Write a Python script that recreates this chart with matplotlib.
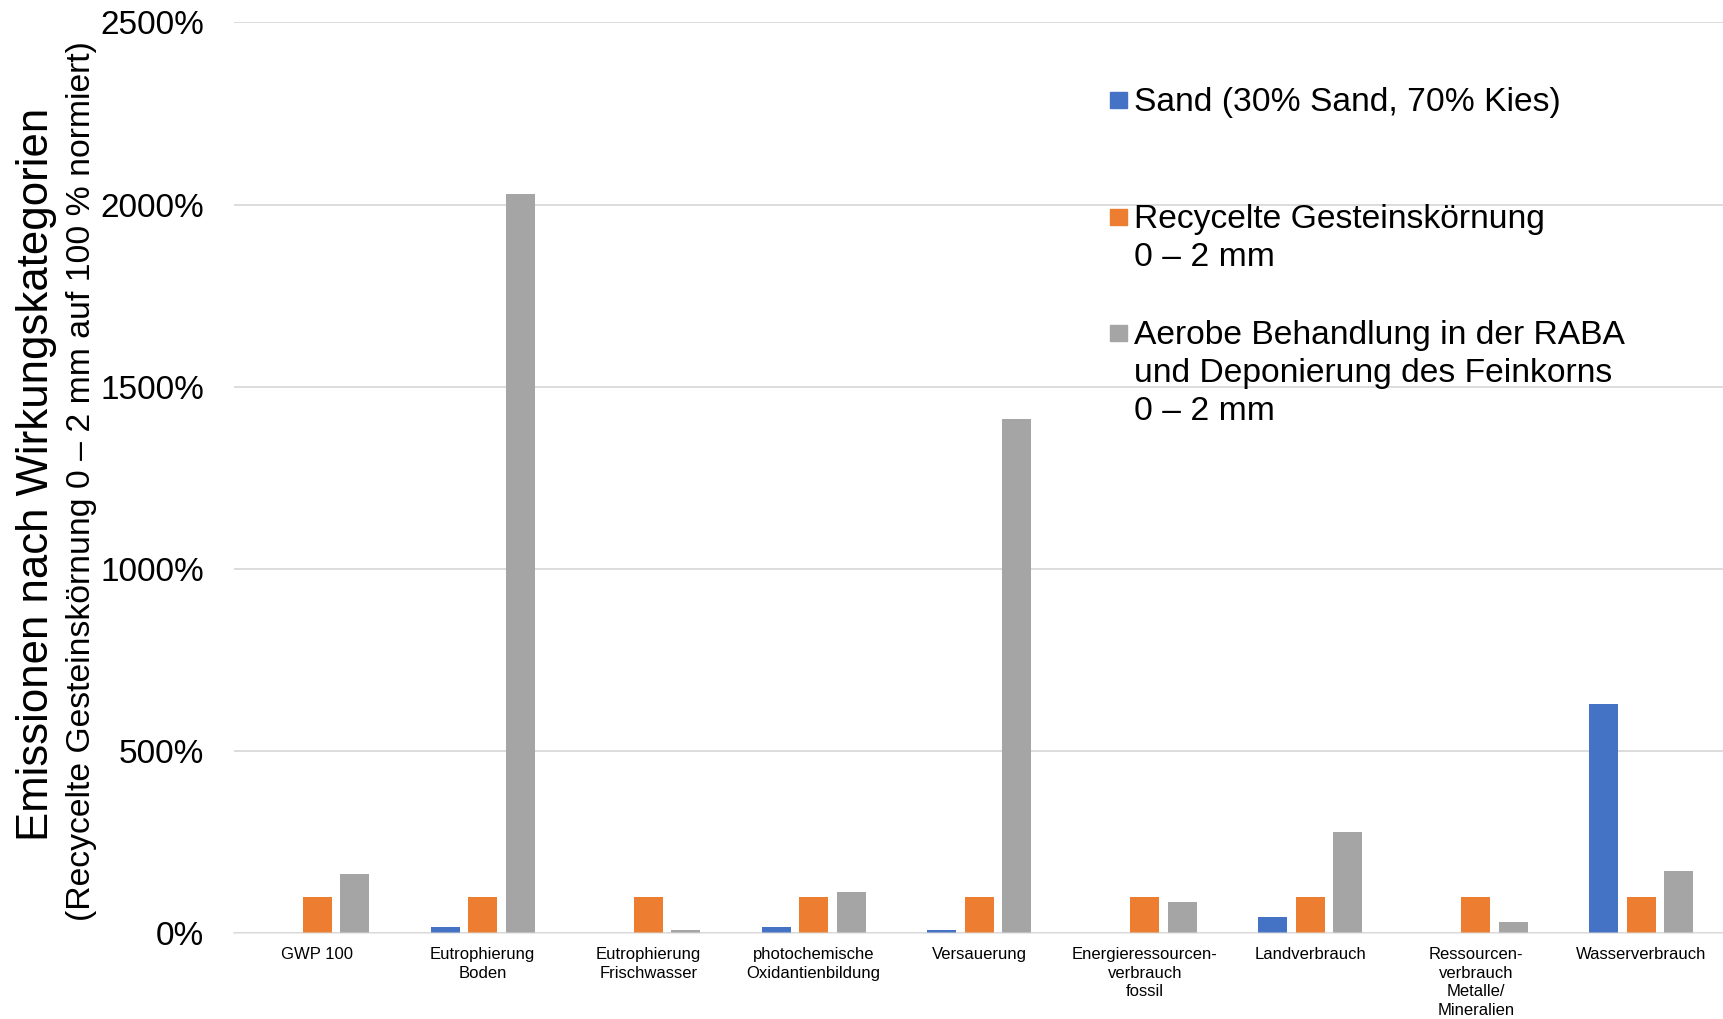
import numpy as np
import matplotlib.pyplot as plt
from matplotlib.patches import Rectangle

plt.rcParams["font.family"] = ["Liberation Sans", "DejaVu Sans"]

# Wirkungskategorien
kategorien = [
    "GWP 100",
    "Eutrophierung\nBoden",
    "Eutrophierung\nFrischwasser",
    "photochemische\nOxidantienbildung",
    "Versauerung",
    "Energieressourcen-\nverbrauch\nfossil",
    "Landverbrauch",
    "Ressourcen-\nverbrauch\nMetalle/\nMineralien",
    "Wasserverbrauch",
]

# Werte in % (normiert auf Recycelte Gesteinskoernung = 100 %)
sand = [1.5, 17, 1.5, 17, 9, 1.5, 45, 1.5, 629]
recycelt = [100, 100, 100, 100, 100, 100, 100, 100, 100]
raba = [164, 2030, 10, 114, 1413, 87, 277, 31, 170]

serien = [
    "Sand (30% Sand, 70% Kies)",
    "Recycelte Gesteinskörnung\n0 – 2 mm",
    "Aerobe Behandlung in der RABA\nund Deponierung des Feinkorns\n0 – 2 mm",
]
farben = ["#4472C4", "#ED7D31", "#A5A5A5"]

yticks = [0, 500, 1000, 1500, 2000, 2500]

fig = plt.figure(figsize=(17.24, 10.19), dpi=100)
ax = fig.add_axes([0.136, 0.084, 0.864, 0.894])

x = np.arange(len(kategorien))
breite = 0.175
abstand = 0.226
for i, (werte, farbe) in enumerate(zip([sand, recycelt, raba], farben)):
    ax.bar(x + (i - 1) * abstand, werte, width=breite, color=farbe, zorder=2)

ax.set_xlim(-0.5, len(kategorien) - 0.5)
ax.set_ylim(0, 2500)
ax.set_yticks(yticks)
ax.set_yticklabels([f"{v}%" for v in yticks], fontsize=24)
ax.set_xticks(x)
ax.set_xticklabels(kategorien, fontsize=12, linespacing=1.3)
ax.tick_params(axis="y", length=0, pad=22)
ax.tick_params(axis="x", length=0, pad=10)
ax.grid(axis="y", color="#D9D9D9", linewidth=1.3, zorder=0)
for s in ["top", "right", "left"]:
    ax.spines[s].set_visible(False)
ax.spines["bottom"].set_color("#D9D9D9")
ax.spines["bottom"].set_alpha(0.5)
ax.spines["bottom"].set_linewidth(1.5)
ax.spines["bottom"].set_zorder(3)

# Achsenbeschriftung (zweizeilig, unterschiedliche Groesse)
fig.text(0.021, 0.534, "Emissionen nach Wirkungskategorien", rotation=90,
         fontsize=31.5, ha="center", va="center")
fig.text(0.047, 0.528, "(Recycelte Gesteinskörnung 0 – 2 mm auf 100 % normiert)",
         rotation=90, fontsize=24.3, ha="center", va="center")

# Legende
leg_y = [0.902, 0.787, 0.673]
for label, farbe, y in zip(serien, farben, leg_y):
    fig.patches.append(Rectangle((0.644, y - 0.008), 0.0095, 0.016,
                                 transform=fig.transFigure, color=farbe))
    fig.text(0.658, y + 0.013, label, fontsize=24.2, va="top", ha="left",
             linespacing=1.3)

fig.savefig("out.png", dpi=100)
